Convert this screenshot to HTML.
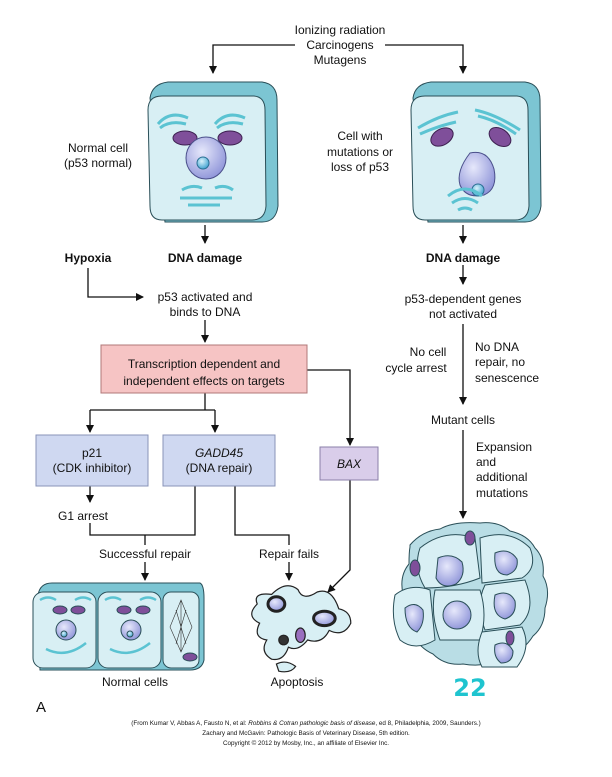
<!DOCTYPE html>
<html><head><meta charset="utf-8"><style>
html,body{margin:0;padding:0;background:#fff;}
svg{display:block;font-family:"Liberation Sans",Arial,sans-serif;}
</style></head><body>
<svg width="612" height="777" viewBox="0 0 612 777" xmlns="http://www.w3.org/2000/svg">
<defs>
<marker id="ah" markerWidth="8" markerHeight="8" refX="7" refY="4" orient="auto" markerUnits="userSpaceOnUse"><path d="M0,0 L8,4 L0,8 Z" fill="#111"/></marker>
<radialGradient id="nuc" cx="0.4" cy="0.35" r="0.7"><stop offset="0" stop-color="#e6e8fb"/><stop offset="1" stop-color="#8d93d8"/></radialGradient>
<radialGradient id="nuo" cx="0.4" cy="0.35" r="0.7"><stop offset="0" stop-color="#d9f2fb"/><stop offset="1" stop-color="#3a9fcf"/></radialGradient>
</defs>
<g fill="none" stroke="#111" stroke-width="1.3">
<path d="M295,45 H213 V73" marker-end="url(#ah)"/>
<path d="M385,45 H463 V73" marker-end="url(#ah)"/>
<path d="M205,225 V243" marker-end="url(#ah)"/>
<path d="M88,268 V297 H143" marker-end="url(#ah)"/>
<path d="M205,320 V342" marker-end="url(#ah)"/>
<path d="M307,370 H350 V445" marker-end="url(#ah)"/>
<path d="M205,393 V410 M90,410 H215"/>
<path d="M90,410 V432" marker-end="url(#ah)"/>
<path d="M215,410 V432" marker-end="url(#ah)"/>
<path d="M90,486 V502" marker-end="url(#ah)"/>
<path d="M90,523 V535 H195 V486"/>
<path d="M145,535 V545"/>
<path d="M145,562 V580" marker-end="url(#ah)"/>
<path d="M235,486 V535 H289 V545"/>
<path d="M289,562 V580" marker-end="url(#ah)"/>
<path d="M350,480 V570 L328,592" marker-end="url(#ah)"/>
<path d="M463,225 V243" marker-end="url(#ah)"/>
<path d="M463,265 V284" marker-end="url(#ah)"/>
<path d="M463,324 V404" marker-end="url(#ah)"/>
<path d="M463,430 V518" marker-end="url(#ah)"/>
</g>

<g>
<path d="M150,98 Q152,84 168,82 L262,82 Q277,84 277,100 L278,206 Q276,222 262,222 L165,222 Z" fill="#7cc5d3" stroke="#2a4f58"/>
<path d="M148,110 Q148,96 162,96 L254,96 Q265,97 265,110 L266,206 Q265,220 252,220 L162,220 Q150,220 150,206 Z" fill="#d8eff4" stroke="#2a4f58"/>
<path d="M158,124 q12,-14 30,-6 M160,128 q10,-8 26,-4 M215,124 q12,-14 30,-6 M217,128 q10,-8 26,-4" stroke="#5bc3d2" stroke-width="3" fill="none"/>
<ellipse cx="185" cy="138" rx="12" ry="7" fill="#7f4f9a" stroke="#3d2050"/>
<ellipse cx="230" cy="138" rx="12" ry="7" fill="#7f4f9a" stroke="#3d2050"/>
<ellipse cx="206" cy="158" rx="20" ry="21" fill="url(#nuc)" stroke="#4a4f8a"/>
<circle cx="203" cy="163" r="6" fill="url(#nuo)" stroke="#2a6f93"/>
<path d="M182,190 q10,-6 20,-2 M215,188 q10,-4 18,2 M180,198 H232 M188,205 H220" stroke="#5bc3d2" stroke-width="3" fill="none"/>
</g>
<g>
<path d="M413,98 Q415,84 431,82 L525,82 Q540,84 540,100 L541,206 Q539,222 525,222 L428,222 Z" fill="#7cc5d3" stroke="#2a4f58"/>
<path d="M411,110 Q411,96 425,96 L517,96 Q528,97 528,110 L529,206 Q528,220 515,220 L425,220 Q413,220 413,206 Z" fill="#d8eff4" stroke="#2a4f58"/>
<path d="M418,128 q20,-12 40,-16 M420,134 q18,-8 36,-12 M475,110 q20,4 45,20 M478,116 q18,4 38,18" stroke="#5bc3d2" stroke-width="3" fill="none"/>
<ellipse cx="442" cy="137" rx="12" ry="8" fill="#7f4f9a" stroke="#3d2050" transform="rotate(-30 442 137)"/>
<ellipse cx="500" cy="137" rx="12" ry="8" fill="#7f4f9a" stroke="#3d2050" transform="rotate(35 500 137)"/>
<path d="M470,153 q18,-4 24,16 q4,20 -10,26 q-18,4 -24,-10 q-4,-14 10,-32 Z" fill="url(#nuc)" stroke="#4a4f8a"/>
<circle cx="478" cy="190" r="6" fill="url(#nuo)" stroke="#2a6f93"/>
<path d="M448,196 q17,-14 34,0 M452,203 q13,-9 26,0 M458,210 q7,-4 14,0" stroke="#5bc3d2" stroke-width="3" fill="none"/>
</g>

<rect x="101" y="345" width="206" height="48" fill="#f6c4c4" stroke="#b07878"/>
<rect x="36" y="435" width="112" height="51" fill="#cfd8f1" stroke="#8893b8"/>
<rect x="163" y="435" width="112" height="51" fill="#cfd8f1" stroke="#8893b8"/>
<rect x="320" y="447" width="58" height="33" fill="#d9cdea" stroke="#8a7fa8"/>

<g stroke="#2a4f58">
<path d="M38,595 Q40,583 52,583 L200,583 Q204,585 204,598 L204,660 Q202,670 190,670 L40,670 Z" fill="#7cc5d3"/>
<rect x="33" y="592" width="63" height="76" rx="10" fill="#d8eff4"/>
<rect x="98" y="592" width="63" height="76" rx="10" fill="#d8eff4"/>
<rect x="163" y="592" width="36" height="76" rx="8" fill="#d8eff4"/>
<ellipse cx="60" cy="610" rx="7" ry="4" fill="#7f4f9a"/><ellipse cx="78" cy="610" rx="7" ry="4" fill="#7f4f9a"/>
<ellipse cx="124" cy="610" rx="7" ry="4" fill="#7f4f9a"/><ellipse cx="143" cy="610" rx="7" ry="4" fill="#7f4f9a"/>
<circle cx="66" cy="630" r="10" fill="url(#nuc)"/><circle cx="131" cy="630" r="10" fill="url(#nuc)"/>
<circle cx="64" cy="634" r="3" fill="url(#nuo)"/><circle cx="130" cy="634" r="3" fill="url(#nuo)"/>
<path d="M181,600 L192,627 L181,652 L170,627 Z M181,600 L181,652 M176,610 L186,644 M186,610 L176,644" fill="none" stroke="#333" stroke-width=".6"/>
<ellipse cx="190" cy="657" rx="7" ry="4" fill="#7f4f9a"/>
</g>
<path d="M46,649 q20,10 40,-6 M110,649 q20,10 40,-6 M40,600 q8,-5 16,0 M75,600 q8,-5 16,0 M105,600 q8,-5 16,0 M140,600 q8,-5 16,0" stroke="#5bc3d2" stroke-width="2.5" fill="none"/>

<g stroke="#222" transform="translate(-38,-128) scale(1.2)">
<path d="M258,602 q12,-12 22,-4 q4,10 16,2 q12,-4 18,14 q10,2 10,12 q-6,12 -18,6 q-6,12 -18,8 q-8,10 -16,6 q-4,12 -14,10 q-10,-6 -4,-16 q-12,-2 -6,-14 q-12,-6 -2,-16 q-4,-10 12,-8 Z" fill="#d8eff4"/>
<ellipse cx="262" cy="610" rx="7" ry="6" fill="url(#nuc)" stroke-width="2.5"/>
<ellipse cx="302" cy="622" rx="9" ry="6" fill="url(#nuc)" stroke-width="2.5"/>
<circle cx="268" cy="640" r="4" fill="#333"/>
<ellipse cx="282" cy="636" rx="4" ry="6" fill="#9a6fbf"/>
<path d="M262,660 q8,-4 16,2 q-4,6 -14,4 Z" fill="#d8eff4"/>
</g>

<g stroke="#2a4f58">
<path d="M410,545 q12,-14 30,-16 q14,-8 40,-6 q18,-2 30,8 q18,4 25,17 q10,10 8,28 q8,14 2,32 q0,18 -12,28 q-10,16 -28,22 q-20,10 -42,6 q-18,2 -30,-10 q-18,-8 -22,-28 q-12,-14 -8,-32 q-4,-18 6,-30 q0,-12 1,-17 Z" fill="#b9dde5"/>
<path d="M420,548 q25,-20 55,-10 l5,40 q-25,10 -55,10 q-12,-20 -5,-40 Z" fill="#d8eff4"/>
<path d="M480,538 q30,-10 50,10 q8,20 -8,30 l-40,5 Z" fill="#d8eff4"/>
<path d="M485,585 l40,-5 q12,30 -5,45 l-35,5 q-10,-25 0,-45 Z" fill="#d8eff4"/>
<path d="M395,595 q15,-12 35,-5 l5,50 q-20,12 -35,0 q-10,-20 -5,-45 Z" fill="#d8eff4"/>
<path d="M435,590 l45,0 q8,25 0,50 l-40,0 q-10,-25 -5,-50 Z" fill="#d8eff4"/>
<path d="M482,632 l40,-5 q10,20 -5,40 l-35,0 q-8,-15 0,-35 Z" fill="#d8eff4"/>
<path d="M438,558 q14,-6 24,4 q4,14 -6,22 q-14,6 -20,-6 Z" fill="url(#nuc)"/>
<path d="M495,553 q14,-6 22,6 q2,12 -10,16 q-14,0 -12,-22 Z" fill="url(#nuc)"/>
<path d="M495,595 q14,-6 20,6 q2,14 -10,18 q-14,-4 -10,-24 Z" fill="url(#nuc)"/>
<path d="M405,608 q10,-8 18,2 q2,14 -6,22 q-12,-4 -12,-24 Z" fill="url(#nuc)"/>
<circle cx="457" cy="615" r="14" fill="url(#nuc)"/>
<path d="M495,645 q12,-6 18,6 q0,12 -12,12 q-8,-6 -6,-18 Z" fill="url(#nuc)"/>
<ellipse cx="415" cy="568" rx="5" ry="8" fill="#7f4f9a"/><ellipse cx="470" cy="538" rx="5" ry="7" fill="#7f4f9a"/>
<ellipse cx="510" cy="638" rx="4" ry="7" fill="#7f4f9a"/>
</g>

<g font-size="12" fill="#111" text-anchor="middle">
<text x="340" y="34">Ionizing radiation</text>
<text x="340" y="49">Carcinogens</text>
<text x="340" y="64">Mutagens</text>
<text x="98" y="152">Normal cell</text>
<text x="98" y="167">(p53 normal)</text>
<text x="360" y="140">Cell with</text>
<text x="360" y="156">mutations or</text>
<text x="360" y="171">loss of p53</text>
<text x="205" y="262" font-weight="bold">DNA damage</text>
<text x="88" y="262" font-weight="bold">Hypoxia</text>
<text x="463" y="262" font-weight="bold">DNA damage</text>
<text x="205" y="301">p53 activated and</text>
<text x="205" y="316">binds to DNA</text>
<text x="463" y="303">p53-dependent genes</text>
<text x="463" y="318">not activated</text>
<text x="204" y="368">Transcription dependent and</text>
<text x="204" y="385">independent effects on targets</text>
<text x="92" y="457">p21</text>
<text x="92" y="472">(CDK inhibitor)</text>
<text x="219" y="457" font-style="italic">GADD45</text>
<text x="219" y="472">(DNA repair)</text>
<text x="349" y="468" font-style="italic">BAX</text>
<text x="83" y="520">G1 arrest</text>
<text x="145" y="558">Successful repair</text>
<text x="289" y="558">Repair fails</text>
<text x="135" y="686">Normal cells</text>
<text x="297" y="686">Apoptosis</text>
<text x="428" y="356">No cell</text>
<text x="416" y="372">cycle arrest</text>
<text x="463" y="424">Mutant cells</text>
</g>
<g font-size="12" fill="#111">
<text x="475" y="351">No DNA</text>
<text x="475" y="366">repair, no</text>
<text x="475" y="382">senescence</text>
<text x="476" y="451">Expansion</text>
<text x="476" y="466">and</text>
<text x="476" y="481">additional</text>
<text x="476" y="497">mutations</text>
<text x="36" y="712" font-size="15">A</text>
</g>
<text x="470" y="696" font-size="24" font-weight="bold" fill="#1fc4cf" text-anchor="middle" font-family="'DejaVu Sans',sans-serif">22</text>
<g font-size="6.3" fill="#111" text-anchor="middle">
<text x="306" y="725">(From Kumar V, Abbas A, Fausto N, et al: <tspan font-style="italic">Robbins &amp; Cotran pathologic basis of disease</tspan>, ed 8, Philadelphia, 2009, Saunders.)</text>
<text x="306" y="735">Zachary and McGavin: Pathologic Basis of Veterinary Disease, 5th edition.</text>
<text x="306" y="745">Copyright © 2012 by Mosby, Inc., an affiliate of Elsevier Inc.</text>
</g>
</svg>
</body></html>
